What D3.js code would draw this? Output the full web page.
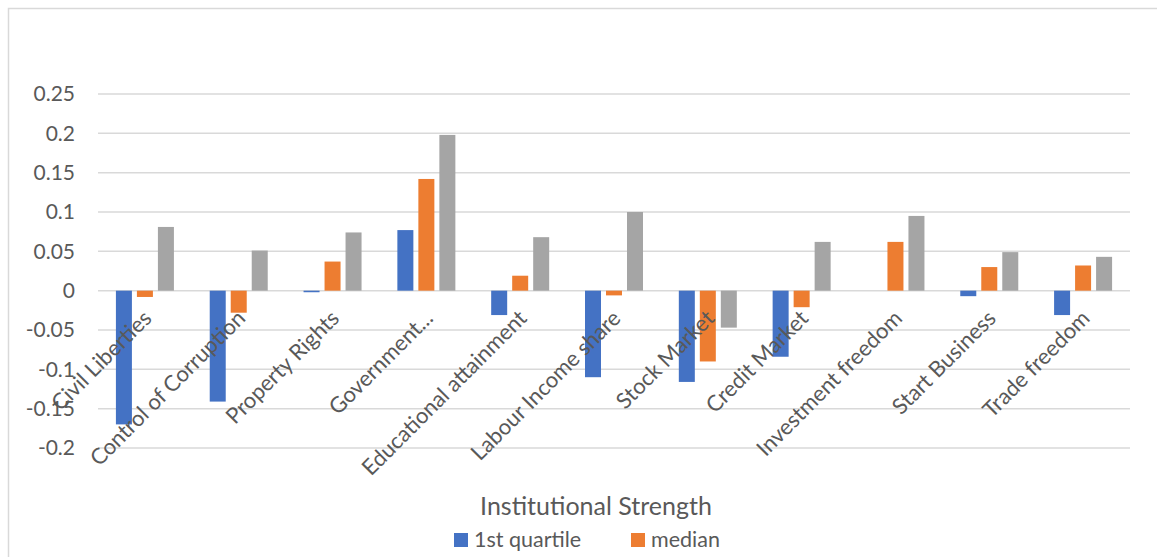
<!DOCTYPE html>
<html>
<head>
<meta charset="utf-8">
<script src="https://cdnjs.cloudflare.com/ajax/libs/d3/7.8.5/d3.min.js"></script>
<style>
  body { margin: 0; background: #fff; }
  svg { font-family: Lato, "Open Sans", sans-serif; }
</style>
</head>
<body>
<svg id="chart"></svg>
<script>
var categories = ["Civil Liberties", "Control of Corruption", "Property Rights", "Government...",
    "Educational attainment", "Labour Income share", "Stock Market", "Credit Market",
    "Investment freedom", "Start Business", "Trade freedom"];
var seriesNames = ["1st quartile", "median", "3rd quartile"];
var firstQuartile = [-0.170, -0.141, -0.002, 0.077, -0.031, -0.110, -0.116, -0.084, 0, -0.007, -0.031];
var median = [-0.008, -0.028, 0.037, 0.142, 0.019, -0.006, -0.090, -0.021, 0.062, 0.030, 0.032];
var thirdQuartile = [0.081, 0.051, 0.074, 0.198, 0.068, 0.100, -0.047, 0.062, 0.095, 0.049, 0.043];
var yTicks = [-0.2, -0.15, -0.1, -0.05, 0, 0.05, 0.1, 0.15, 0.2, 0.25];
var colors = ["#4472C4", "#ED7D31", "#A5A5A5"];

var svgWidth = 1157, svgHeight = 557;
var svg = d3.select("#chart").attr("width", svgWidth).attr("height", svgHeight);

// chart area border (right and bottom are cut off in the original)
svg.append("path")
    .attr("d", "M8.5," + svgHeight + "V8.5H" + svgWidth)
    .attr("fill", "none")
    .attr("stroke", "#d9d9d9")
    .attr("stroke-width", 1.5);

var margin = {left: 98, right: 27, top: 94, bottom: 109};
var x = d3.scaleBand().domain(categories).range([margin.left, svgWidth - margin.right]);
var y = d3.scaleLinear().domain([-0.2, 0.25]).range([svgHeight - margin.bottom, margin.top]);

// gridlines
svg.append("g")
    .selectAll("line")
    .data(yTicks)
    .enter()
    .append("line")
    .attr("x1", x.range()[0])
    .attr("x2", x.range()[1])
    .attr("y1", function(d) { return y(d); })
    .attr("y2", function(d) { return y(d); })
    .attr("stroke", "#d9d9d9")
    .attr("stroke-width", 1.5);

// y tick labels
var yAxis = d3.axisLeft(y).tickValues(yTicks).tickSize(0).tickPadding(0)
    .tickFormat(function(d) { return String(+d.toFixed(2)); });
var yg = svg.append("g").attr("transform", "translate(75,0)").call(yAxis);
yg.select(".domain").remove();
yg.selectAll("text").attr("fill", "#595959").style("font-size", "21px").style("font-family", "Lato, sans-serif");

var data = [firstQuartile, median, thirdQuartile];
var barW = 16, step = 21;

var groups = svg.append("g")
    .selectAll("g")
    .data(data)
    .enter()
    .append("g")
    .attr("fill", function(d, i) { return colors[i]; });

groups.selectAll("rect")
    .data(function(d, i) { return d.map(function(v, j) { return {v: v, s: i, c: categories[j]}; }); })
    .enter()
    .append("rect")
    .attr("x", function(d) { return x(d.c) + x.bandwidth() / 2 + (d.s - 1) * step - barW / 2; })
    .attr("width", barW)
    .attr("y", function(d) { return Math.min(y(d.v), y(0)); })
    .attr("height", function(d) { return Math.abs(y(d.v) - y(0)); });

// category labels, rotated
svg.append("g")
    .selectAll("text")
    .data(categories)
    .enter()
    .append("text")
    .attr("transform", function(d) {
        return "translate(" + (x(d) + x.bandwidth() / 2 + 8) + "," + (y(0) + 29) + ") rotate(-45)";
    })
    .attr("text-anchor", "end")
    .attr("fill", "#595959")
    .style("font-size", "22px")
    .text(function(d) { return d; });

// axis title
svg.append("text")
    .attr("x", 596)
    .attr("y", 515)
    .attr("text-anchor", "middle")
    .attr("fill", "#595959")
    .style("font-size", "25px")
    .text("Institutional Strength");

// legend (only the first two entries are visible in the frame)
var legend = svg.append("g")
    .selectAll("g")
    .data([0, 1])
    .enter()
    .append("g")
    .attr("transform", function(d) { return "translate(" + (454 + d * 177) + ",533)"; });

legend.append("rect")
    .attr("width", 14)
    .attr("height", 14)
    .attr("fill", function(d) { return colors[d]; });

legend.append("text")
    .attr("x", 20)
    .attr("y", 14)
    .attr("fill", "#595959")
    .style("font-size", "21.5px")
    .text(function(d) { return seriesNames[d]; });
</script>
</body>
</html>
